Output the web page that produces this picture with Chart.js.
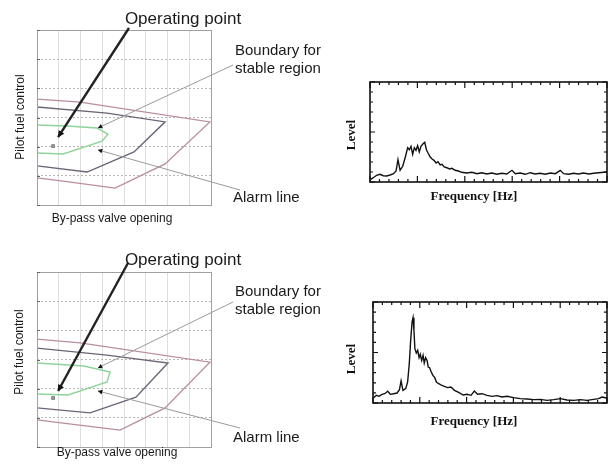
<!DOCTYPE html>
<html>
<head>
<meta charset="utf-8">
<script src="https://cdn.jsdelivr.net/npm/chart.js@4.4.0/dist/chart.umd.min.js"></script>
<style>
  body { margin: 0; background: #fff; }
  .panel { position: absolute; }
</style>
</head>
<body>
<div class="panel" style="left:0;top:0;width:330px;height:235px"><canvas id="mapTop"></canvas></div>
<div class="panel" style="left:0;top:242px;width:330px;height:227px"><canvas id="mapBottom"></canvas></div>
<div class="panel" style="left:340px;top:60px;width:270px;height:160px"><canvas id="specTop"></canvas></div>
<div class="panel" style="left:340px;top:280px;width:270px;height:160px"><canvas id="specBottom"></canvas></div>
<script>
// operating maps, points as [by-pass valve opening, pilot fuel control] in grid units
const topOuter  = [[0,3.63],[1.98,3.53],[7.95,2.85],[5.89,1.41],[3.59,0.58],[1.2,0.82],[0,0.93]];
const topMiddle = [[0,3.36],[3.22,3.15],[5.89,2.85],[4.46,1.82],[2.3,1.13],[0,1.34]];
const topInner  = [[0,2.74],[1.38,2.71],[2.76,2.64],[3.26,2.43],[2.99,2.19],[1.2,1.75],[0,1.78]];
const topPoint  = [[0.74,2.02]];

const botOuter  = [[0,3.70],[1.98,3.57],[7.95,2.91],[5.89,1.34],[3.82,0.58],[1.2,0.82],[0,0.93]];
const botMiddle = [[0,3.39],[3.22,3.15],[6.02,2.88],[4.55,1.71],[2.44,1.17],[0,1.34]];
const botInner  = [[0,2.88],[2.16,2.78],[3.36,2.57],[3.22,2.23],[1.43,1.78],[0,1.82]];
const botPoint  = [[0.74,1.68]];

// spectra, frequency and level in % of the plotted range
const topFreq = [0.3,1.4,2.8,4.2,5.6,7.0,8.5,9.9,11.0,11.8,12.7,13.8,14.9,15.9,16.6,17.3,18.0,18.7,19.4,20.1,
  20.8,21.5,22.4,23.1,23.8,24.5,25.4,26.2,27.0,27.9,28.7,29.6,30.4,31.3,32.4,33.5,34.6,35.9,37.3,38.7,
  40.8,43.0,45.1,47.2,49.3,51.4,53.5,55.6,57.7,59.9,61.3,63.4,65.5,67.6,69.7,71.8,73.9,76.1,78.2,80.3,
  81.7,83.8,85.9,88.0,90.1,92.3,94.4,96.5,98.6,100];
const topLevel = [2.7,4.3,6.7,7.7,6.3,6,7,8.3,11,22.3,11.7,15.7,25,34.3,32.3,35.7,27.7,34.3,31.7,36.3,
  30,35.7,38.3,39.7,32.3,29,25,23,21.7,19,20.3,17,17.7,15,14.3,13,13.7,11.7,11,9.7,
  9,9.7,8.3,9.3,8,9,7.7,8.7,8,11.7,8.3,9,7.7,9.3,8,8.7,7.7,9,8.3,11.7,
  8.3,7.7,8.7,8,9,8,8.7,9.3,9.7,10];

const botFreq = [0.3,1.4,2.6,3.8,5.0,6.3,7.4,8.8,10.3,11.3,12.0,12.8,14.0,14.8,15.5,16.1,16.7,17.1,17.5,17.9,
  18.5,19.1,19.7,20.2,20.8,21.4,21.9,22.5,23.1,23.6,24.2,24.9,25.6,26.4,27.1,28.1,29.2,30.5,31.9,33.3,
  34.8,36.6,38.5,40.2,41.9,43.3,44.7,46.6,48.7,50.9,53.0,55.1,57.3,60.1,63.0,65.8,68.7,71.5,74.4,77.2,
  80.1,82.9,85.8,88.6,91.5,94.3,96.4,97.9,99.7];
const botLevel = [5.3,7.6,6.6,8.6,9.2,11.6,8.6,9.2,9.9,13.2,21.8,12.5,14.2,20.8,38.9,62,80.2,84.5,72,53.8,
  49.5,52.1,44.9,48.2,42.2,47.2,39.6,44.9,42.2,35.6,35,30.7,27.4,25.1,20.8,19.1,17.8,16.5,15.2,15.8,
  12.5,10.6,7.9,8.6,7.6,11.9,8.6,9.2,7.6,6.6,7.3,5.9,6.6,5.3,4.3,4,3.3,3.6,2.6,3.3,
  4.3,3,2.6,3.3,2.6,3.6,4.3,5.9,5];

const SANS = '"Liberation Sans", Arial, sans-serif';
const SERIF = '"Liberation Serif", "Times New Roman", serif';

const toXY = pts => pts.map(p => ({ x: p[0], y: p[1] }));

function arrow(ctx, x1, y1, x2, y2, color, width, head) {
  ctx.save();
  ctx.strokeStyle = color;
  ctx.lineWidth = width;
  ctx.beginPath();
  ctx.moveTo(x1, y1);
  ctx.lineTo(x2, y2);
  ctx.stroke();
  const a = Math.atan2(y2 - y1, x2 - x1);
  ctx.fillStyle = '#111';
  ctx.beginPath();
  ctx.moveTo(x2, y2);
  ctx.lineTo(x2 - head * Math.cos(a - 0.5), y2 - head * Math.sin(a - 0.5));
  ctx.lineTo(x2 - head * Math.cos(a + 0.5), y2 - head * Math.sin(a + 0.5));
  ctx.closePath();
  ctx.fill();
  ctx.restore();
}

const mapNotes = {
  id: 'mapNotes',
  afterDraw(chart, args, n) {
    const { ctx, chartArea: a, scales: { x, y } } = chart;
    ctx.save();
    // frame and small left tick marks
    ctx.strokeStyle = '#a0a0a0';
    ctx.lineWidth = 1;
    ctx.strokeRect(Math.round(a.left) + 0.5, Math.round(a.top) + 0.5,
      Math.round(a.right - a.left), Math.round(a.bottom - a.top));
    ctx.strokeStyle = '#666';
    y.ticks.forEach(t => {
      const py = Math.round(y.getPixelForValue(t.value)) + 0.5;
      ctx.beginPath();
      ctx.moveTo(a.left, py);
      ctx.lineTo(a.left + 3, py);
      ctx.stroke();
    });

    arrow(ctx, n.opFrom[0], n.opFrom[1], x.getPixelForValue(n.opTip[0]), y.getPixelForValue(n.opTip[1]), '#222', 2.4, 7);
    arrow(ctx, n.bFrom[0], n.bFrom[1], x.getPixelForValue(n.bTip[0]), y.getPixelForValue(n.bTip[1]), '#9a9a9a', 1, 5);
    arrow(ctx, n.aFrom[0], n.aFrom[1], x.getPixelForValue(n.aTip[0]), y.getPixelForValue(n.aTip[1]), '#9a9a9a', 1, 5);

    ctx.fillStyle = '#1a1a1a';
    ctx.textBaseline = 'middle';
    ctx.textAlign = 'center';
    ctx.font = '17px ' + SANS;
    ctx.fillText('Operating point', n.opText[0], n.opText[1]);
    ctx.textAlign = 'left';
    ctx.font = '15px ' + SANS;
    ctx.fillText('Boundary for', n.bText[0], n.bText[1]);
    ctx.fillText('stable region', n.bText[0], n.bText[2]);
    ctx.fillText('Alarm line', n.aText[0], n.aText[1]);
    ctx.textAlign = 'center';
    ctx.font = '12px ' + SANS;
    ctx.fillText('By-pass valve opening', n.xTitle[0], n.xTitle[1]);
    ctx.translate(n.yTitle[0], n.yTitle[1]);
    ctx.rotate(-Math.PI / 2);
    ctx.fillText('Pilot fuel control', 0, 0);
    ctx.restore();
  }
};

function mapChart(id, outer, middle, inner, point, notes, padBottom) {
  const line = (data, color, width) => ({
    data: toXY(data), showLine: true, borderColor: color, borderWidth: width,
    pointRadius: 0, tension: 0, fill: false
  });
  return new Chart(document.getElementById(id), {
    type: 'scatter',
    data: {
      datasets: [
        line(outer, '#b98e9c', 1.3),
        line(middle, '#6d6377', 1.4),
        line(inner, '#8fd49b', 1.5),
        { data: toXY(point), pointStyle: 'rect', pointRadius: 2,
          backgroundColor: '#a0a0a0', borderColor: '#808080', borderWidth: 1 }
      ]
    },
    plugins: [mapNotes],
    options: {
      responsive: true,
      maintainAspectRatio: false,
      animation: false,
      events: [],
      layout: { padding: { left: 37, top: 30, right: 119, bottom: padBottom } },
      plugins: { legend: { display: false }, tooltip: { enabled: false }, mapNotes: notes },
      scales: {
        x: {
          type: 'linear', min: 0, max: 8,
          ticks: { display: false, stepSize: 1 },
          grid: { color: '#dedede', drawTicks: false },
          border: { display: false }
        },
        y: {
          type: 'linear', min: 0, max: 6,
          ticks: { display: false, stepSize: 1 },
          grid: { color: '#b8b8b8', drawTicks: false },
          border: { display: false, dash: [2, 2] }
        }
      }
    }
  });
}

mapChart('mapTop', topOuter, topMiddle, topInner, topPoint, {
  opText: [183, 19], opFrom: [129, 28], opTip: [0.97, 2.33],
  bText: [235, 51, 69], bFrom: [233, 65], bTip: [2.8, 2.64],
  aText: [233, 198], aFrom: [240, 190], aTip: [2.8, 1.89],
  xTitle: [112, 219], yTitle: [21, 117]
}, 30);

mapChart('mapBottom', botOuter, botMiddle, botInner, botPoint, {
  opText: [183, 18], opFrom: [128, 21], opTip: [0.97, 1.92],
  bText: [235, 50, 68], bFrom: [233, 60], bTip: [2.8, 2.71],
  aText: [233, 196], aFrom: [240, 186], aTip: [2.8, 1.92],
  xTitle: [117, 211], yTitle: [20, 110]
}, 22);

const specFrame = {
  id: 'specFrame',
  afterDraw(chart, args, n) {
    const { ctx, chartArea: a, scales: { x, y } } = chart;
    ctx.save();
    ctx.strokeStyle = '#111';
    ctx.lineWidth = 1.6;
    ctx.strokeRect(a.left, a.top, a.right - a.left, a.bottom - a.top);
    ctx.lineWidth = 1.2;
    x.ticks.forEach(t => {
      const px = x.getPixelForValue(t.value);
      const len = t.value % 20 === 0 ? 6 : 3;
      ctx.beginPath();
      ctx.moveTo(px, a.top); ctx.lineTo(px, a.top + len);
      ctx.moveTo(px, a.bottom); ctx.lineTo(px, a.bottom - len);
      ctx.stroke();
    });
    y.ticks.forEach(t => {
      const py = y.getPixelForValue(t.value);
      const len = t.value % 50 === 0 ? 5 : 3;
      ctx.beginPath();
      ctx.moveTo(a.left, py); ctx.lineTo(a.left + len, py);
      ctx.moveTo(a.right, py); ctx.lineTo(a.right - len, py);
      ctx.stroke();
    });
    ctx.fillStyle = '#111';
    ctx.font = 'bold 13px ' + SERIF;
    ctx.textAlign = 'center';
    ctx.textBaseline = 'middle';
    ctx.fillText('Frequency [Hz]', n.xTitle[0], n.xTitle[1]);
    ctx.translate(n.yTitle[0], n.yTitle[1]);
    ctx.rotate(-Math.PI / 2);
    ctx.fillText('Level', 0, 0);
    ctx.restore();
  }
};

function specChart(id, freq, level, pad, notes) {
  const hidden = {
    ticks: { display: false },
    grid: { display: false, drawTicks: false },
    border: { display: false }
  };
  return new Chart(document.getElementById(id), {
    type: 'line',
    data: {
      labels: freq,
      datasets: [{
        data: freq.map((f, i) => ({ x: f, y: level[i] })),
        borderColor: '#111', borderWidth: 1.4, pointRadius: 0, tension: 0, fill: false
      }]
    },
    plugins: [specFrame],
    options: {
      responsive: true,
      maintainAspectRatio: false,
      animation: false,
      events: [],
      layout: { padding: pad },
      plugins: { legend: { display: false }, tooltip: { enabled: false }, specFrame: notes },
      scales: {
        x: { ...hidden, type: 'linear', min: 0, max: 100, ticks: { display: false, stepSize: 4 } },
        y: { ...hidden, type: 'linear', min: 0, max: 100, ticks: { display: false, stepSize: 10 } }
      }
    }
  });
}

specChart('specTop', topFreq, topLevel, { left: 30, top: 22, right: 3, bottom: 38 },
  { xTitle: [134, 137], yTitle: [12, 75] });
specChart('specBottom', botFreq, botLevel, { left: 33, top: 22, right: 3, bottom: 37 },
  { xTitle: [134, 142], yTitle: [12, 79] });
</script>
</body>
</html>
